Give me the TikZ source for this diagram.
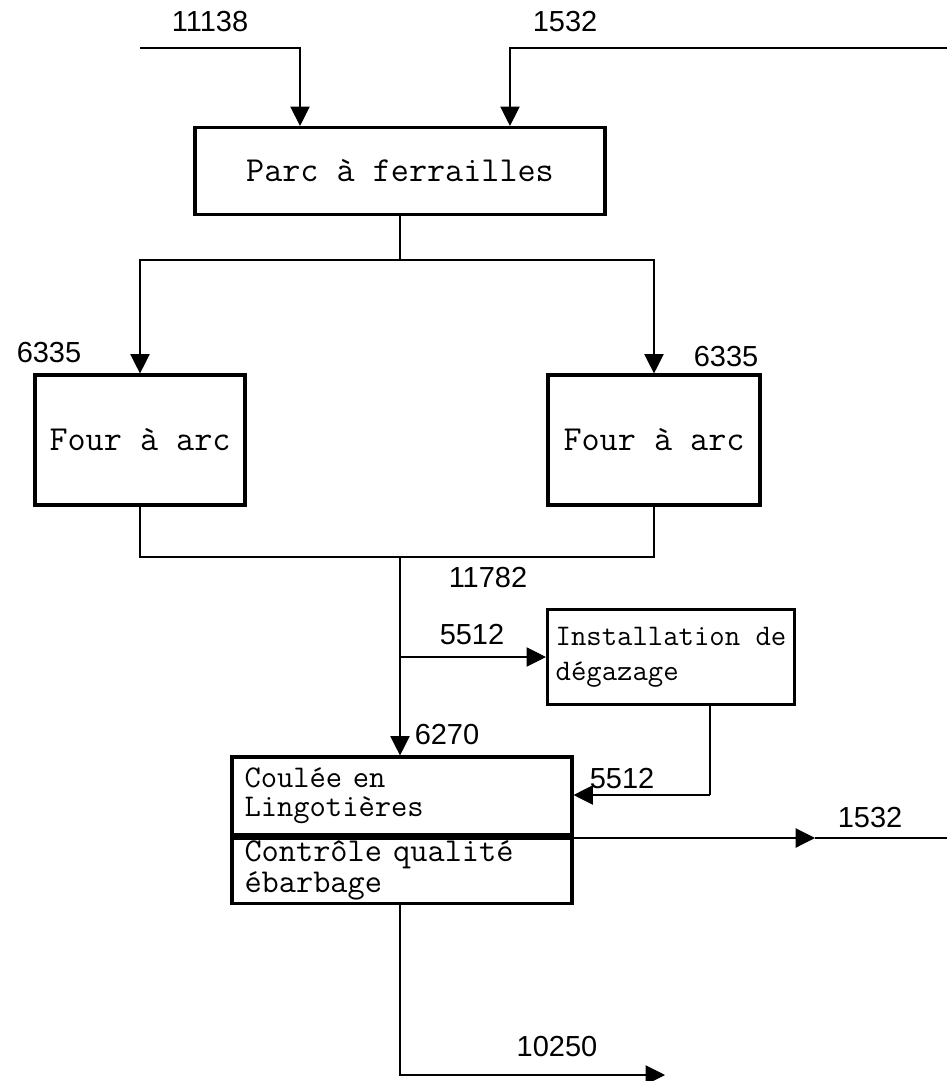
\documentclass[tikz,border=0pt]{standalone}
\usepackage{fontspec}
\newfontfamily\numfont{Liberation Sans}
\usetikzlibrary{arrows.meta}

\begin{document}
\begin{tikzpicture}[x=0.02cm,y=-0.02cm,
  box/.style={draw, line width=1.8pt, inner sep=0pt, font=\ttfamily\fontsize{20}{24}\selectfont},
  flow/.style={line width=0.6pt},
  arr/.style={flow, -{Triangle[width=11pt,length=11pt]}},
  num/.style={font=\numfont\fontsize{16.5}{18}\selectfont}]
\useasboundingbox (0,0) rectangle (947,1081);

% Boxes
\node[box, minimum width=8.2cm, minimum height=1.74cm] (parc) at (400,171) {Parc à ferrailles};
\node[box, minimum width=4.2cm, minimum height=2.6cm] (fourA) at (140,440) {Four à arc};
\node[box, minimum width=4.24cm, minimum height=2.6cm] (fourB) at (654,440) {Four à arc};
\node[box, minimum width=4.94cm, minimum height=1.9cm, align=left,
      font=\ttfamily\fontsize{17}{20}\selectfont] (degaz) at (671,657) {Installation de\\dégazage};
\node[box, minimum width=6.8cm, minimum height=1.56cm, text width=6.3cm, align=left,
      font=\ttfamily\fontsize{18}{16.5}\selectfont] (coulee) at (402,796) {Coulée en\\Lingotières};
\node[box, minimum width=6.8cm, minimum height=1.3cm, text width=6.3cm, align=left,
      font=\ttfamily\fontsize{19}{17.5}\selectfont, anchor=north] (controle) at (coulee.south) {Contrôle qualité\\ébarbage};

% Free ends and branch points
\coordinate (in1) at (140,48);
\coordinate (in2) at (947,48);
\coordinate (split) at (400,260);
\coordinate (join) at (400,557);
\coordinate (tap) at (400,657);
\coordinate (back) at (710,795);
\coordinate (mid) at (815,838);
\coordinate (out) at (947,838);
\coordinate (prod) at (665,1075);

% Inputs
\draw[arr] (in1) -| ([xshift=-2cm]parc.north);
\draw[arr] (in2) -| ([xshift=2.2cm]parc.north);
\node[num] (n11138) at (210,22) {11138};
\node[num] (n1532a) at (565,22) {1532};

% Parc to furnaces
\draw[flow] (parc.south) -- (split);
\draw[arr] (split) -| (fourA.north);
\draw[arr] (split) -| (fourB.north);
\node[num] (n6335a) at (49,353) {6335};
\node[num] (n6335b) at (726,357) {6335};

% Furnaces to casting
\draw[flow] (fourA.south) |- (join) -| (fourB.south);
\draw[arr] (join) -- (join |- coulee.north);
\draw[arr] (tap) -- (degaz.west);
\draw[flow] (degaz.south -| back) -- (back);
\draw[arr] (back) -- (back -| coulee.east);
\node[num] (n11782) at (488,578) {11782};
\node[num] (n5512a) at (472,635) {5512};
\node[num] (n6270) at (447,735) {6270};
\node[num] (n5512b) at (622,779) {5512};

% Outputs
\draw[arr] (mid -| coulee.east) -- (mid);
\draw[flow] (mid) -- (out);
\node[num] (n1532b) at (870,818) {1532};
\draw[arr] (controle.south -| join) |- (prod);
\node[num] (n10250) at (557,1047) {10250};
\end{tikzpicture}
\end{document}
